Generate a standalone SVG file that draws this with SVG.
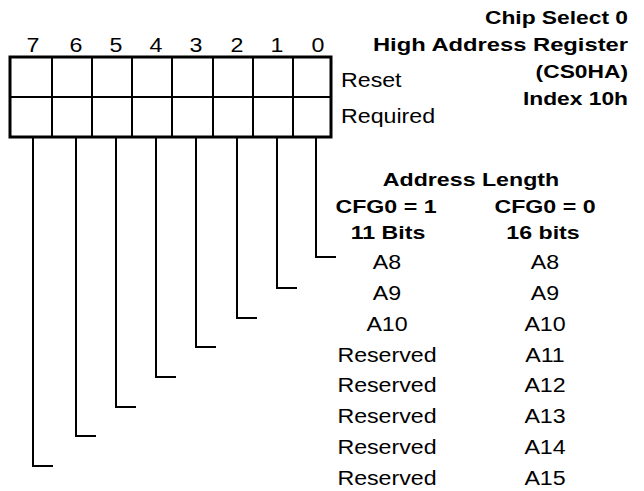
<svg xmlns="http://www.w3.org/2000/svg" width="644" height="491" viewBox="0 0 644 491">
<style>
.t{font-family:"Liberation Sans",Arial,sans-serif;font-size:20px;fill:#000}
.b{font-family:"Liberation Sans",Arial,sans-serif;font-size:19px;font-weight:bold;fill:#000}
.m{text-anchor:middle}
.e{text-anchor:end}
.ln{fill:none;stroke:#000;stroke-width:2}
.box{fill:#fff;stroke:#000;stroke-width:3}
</style>
<rect width="644" height="491" fill="#fff"/>
<g id="title">
<text class="b e" transform="translate(628,24) scale(1.2,1)">Chip Select 0</text>
<text class="b e" transform="translate(628,51) scale(1.25,1)">High Address Register</text>
<text class="b e" transform="translate(628,78) scale(1.2,1)">(CS0HA)</text>
<text class="b e" transform="translate(628,105) scale(1.2,1)">Index 10h</text>
</g>
<g id="bit-numbers">
<text class="t m" transform="translate(33,52) scale(1.16,1)">7</text>
<text class="t m" transform="translate(76,52) scale(1.16,1)">6</text>
<text class="t m" transform="translate(116,52) scale(1.16,1)">5</text>
<text class="t m" transform="translate(156,52) scale(1.16,1)">4</text>
<text class="t m" transform="translate(196,52) scale(1.16,1)">3</text>
<text class="t m" transform="translate(237,52) scale(1.16,1)">2</text>
<text class="t m" transform="translate(277,52) scale(1.16,1)">1</text>
<text class="t m" transform="translate(318,52) scale(1.16,1)">0</text>
</g>
<g id="register">
<rect class="box" x="10" y="57" width="321" height="80"/>
<path class="ln" d="M10 97H331M52 57V137M92 57V137M132 57V137M172 57V137M213 57V137M253 57V137M293 57V137"/>
<text class="t" transform="translate(341,87) scale(1.16,1)">Reset</text>
<text class="t" transform="translate(341,123) scale(1.16,1)">Required</text>
</g>
<g id="connectors">
<path class="ln" d="M316 137V257H336"/>
<path class="ln" d="M277 137V288H297"/>
<path class="ln" d="M237 137V318H257"/>
<path class="ln" d="M196 137V347H216"/>
<path class="ln" d="M156 137V377H176"/>
<path class="ln" d="M116 137V407H136"/>
<path class="ln" d="M76 137V436H96"/>
<path class="ln" d="M33 137V466H53"/>
</g>
<g id="address-table">
<text class="b m" transform="translate(471,186) scale(1.22,1)">Address Length</text>
<text class="b m" transform="translate(386,213) scale(1.22,1)">CFG0 = 1</text>
<text class="b m" transform="translate(545,213) scale(1.22,1)">CFG0 = 0</text>
<text class="b m" transform="translate(388,239) scale(1.22,1)">11 Bits</text>
<text class="b m" transform="translate(543,239) scale(1.22,1)">16 bits</text>
<text class="t m" transform="translate(387,269) scale(1.16,1)">A8</text>
<text class="t m" transform="translate(545,269) scale(1.16,1)">A8</text>
<text class="t m" transform="translate(387,300) scale(1.16,1)">A9</text>
<text class="t m" transform="translate(545,300) scale(1.16,1)">A9</text>
<text class="t m" transform="translate(387,331) scale(1.16,1)">A10</text>
<text class="t m" transform="translate(545,331) scale(1.16,1)">A10</text>
<text class="t m" transform="translate(387,362) scale(1.16,1)">Reserved</text>
<text class="t m" transform="translate(545,362) scale(1.16,1)">A11</text>
<text class="t m" transform="translate(387,392) scale(1.16,1)">Reserved</text>
<text class="t m" transform="translate(545,392) scale(1.16,1)">A12</text>
<text class="t m" transform="translate(387,423) scale(1.16,1)">Reserved</text>
<text class="t m" transform="translate(545,423) scale(1.16,1)">A13</text>
<text class="t m" transform="translate(387,454) scale(1.16,1)">Reserved</text>
<text class="t m" transform="translate(545,454) scale(1.16,1)">A14</text>
<text class="t m" transform="translate(387,485) scale(1.16,1)">Reserved</text>
<text class="t m" transform="translate(545,485) scale(1.16,1)">A15</text>
</g>
</svg>
